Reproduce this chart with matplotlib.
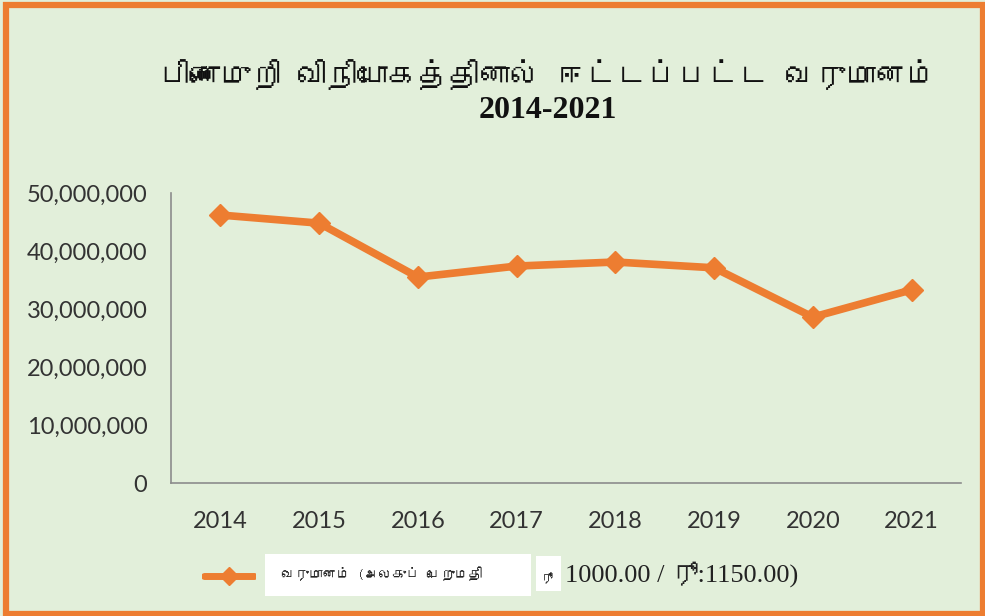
import matplotlib
matplotlib.use("Agg")
import matplotlib.pyplot as plt
from matplotlib import font_manager as fm
from matplotlib.patches import Rectangle
from matplotlib.ticker import FuncFormatter
from fontTools.ttLib import TTFont

years = ["2014", "2015", "2016", "2017", "2018", "2019", "2020", "2021"]
income = [46200000, 44800000, 35500000, 37400000, 38100000, 37100000, 28600000, 33300000]

title_line1 = "பிணைமுறி விநியோகத்தினால் ஈட்டப்பட்ட வருமானம்"
title_line2 = "2014-2021"
legend_label = "வருமானம் (அலகுப் பெறுமதி"
legend_unit = "ரூ"
legend_tail = "1000.00 / ரூ:1150.00)"


def find_tamil_font():
    # look for any installed font that has Tamil glyphs
    for f in fm.fontManager.ttflist:
        try:
            cmap = TTFont(f.fname, fontNumber=0, lazy=True).getBestCmap()
        except Exception:
            continue
        if cmap and 0x0B95 in cmap and 0x0BAE in cmap:
            return f.name
    return None


tamil = find_tamil_font()
tam_fam = [tamil, "DejaVu Sans"] if tamil else ["DejaVu Sans"]

orange = "#ED7D31"
bg = "#E2EFDA"
grey = "#333333"

fig = plt.figure(figsize=(9.85, 6.16), dpi=100)
fig.patch.set_facecolor(bg)
fig.add_artist(Rectangle((0.006, 0.004), 0.992, 0.988, transform=fig.transFigure,
                         fill=False, edgecolor=orange, linewidth=4.5))

ax = fig.add_axes([0.1736, 0.2159, 0.8020, 0.4708])
ax.set_facecolor(bg)
x = list(range(len(years)))
ax.plot(x, income, color=orange, linewidth=5.5, marker="D", markersize=11,
        markeredgecolor=orange, solid_joinstyle="round", clip_on=False, zorder=3)

ax.set_xlim(-0.5, len(years) - 0.5)
ax.set_ylim(0, 50000000)
ax.set_yticks(range(0, 50000001, 10000000))
ax.yaxis.set_major_formatter(FuncFormatter(lambda v, p: f"{int(v):,}"))
ax.set_xticks(x)
ax.set_xticklabels(years)
for s in ["top", "right"]:
    ax.spines[s].set_visible(False)
for s in ["left", "bottom"]:
    ax.spines[s].set_color("#8c8c8c")
    ax.spines[s].set_linewidth(1.2)
ax.tick_params(length=0, labelcolor=grey, labelsize=17)
ax.tick_params(axis="y", pad=17)
ax.tick_params(axis="x", pad=20)
for lab in ax.get_xticklabels() + ax.get_yticklabels():
    lab.set_fontfamily("Lato")

fig.text(0.556, 0.878, title_line1, ha="center", va="center", fontsize=22,
         fontweight="bold", family=tam_fam, color="#111111")
fig.text(0.556, 0.82, title_line2, ha="center", va="center", fontsize=23,
         fontweight="bold", family="Liberation Serif", color="#111111")

# legend built by hand to match the boxed look
leg = fig.add_axes([0.205, 0.045, 0.055, 0.04])
leg.set_axis_off()
leg.plot([0, 1], [0.5, 0.5], color=orange, linewidth=5, solid_capstyle="round")
leg.plot([0.5], [0.5], marker="D", color=orange, markersize=9)
leg.set_xlim(-0.05, 1.05)
leg.set_ylim(0, 1)

fig.add_artist(Rectangle((0.269, 0.032), 0.27, 0.068, transform=fig.transFigure,
                         facecolor="white", edgecolor="none"))
fig.text(0.285, 0.068, legend_label, ha="left", va="center", fontsize=10,
         family=tam_fam, color="#222222")
fig.add_artist(Rectangle((0.544, 0.04), 0.026, 0.058, transform=fig.transFigure,
                         facecolor="white", edgecolor="none"))
fig.text(0.549, 0.062, legend_unit, ha="left", va="center", fontsize=9,
         family=tam_fam, color="#222222")
fig.text(0.574, 0.068, legend_tail, ha="left", va="center", fontsize=19,
         family=["Liberation Serif"] + tam_fam, color="#222222")

fig.savefig("out.png", dpi=100, facecolor=bg)
